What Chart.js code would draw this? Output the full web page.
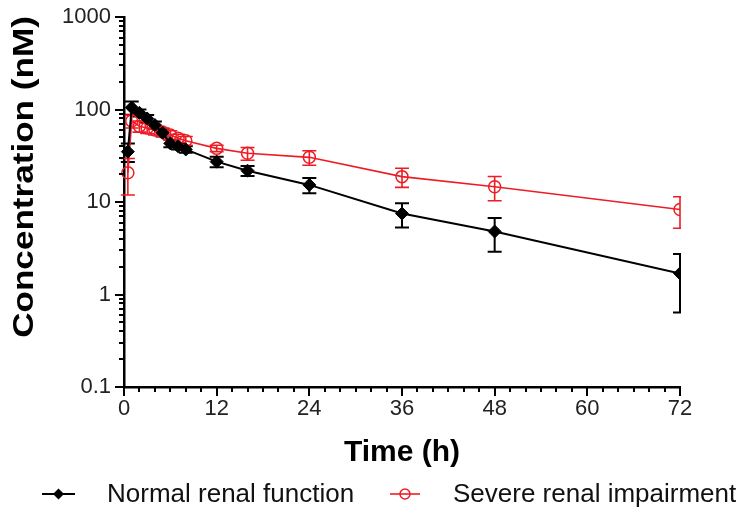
<!DOCTYPE html>
<html>
<head>
<meta charset="utf-8">
<script src="https://cdn.jsdelivr.net/npm/chart.js@4/dist/chart.umd.min.js"></script>
<style>
  html, body { margin: 0; padding: 0; background: #fff; }
  #wrap { width: 739px; height: 516px; }
</style>
</head>
<body>
<div id="wrap"><canvas id="pk" width="739" height="516"></canvas></div>
<script>
// Sampling times (h)
const sampleTimes = [0.5, 1, 2, 3, 4, 5, 6, 7, 8, 12, 16, 24, 36, 48, 72];
// Mean plasma concentration (nM) and SD, normal renal function
const normalMean = [35, 105, 92, 80, 68, 56, 43, 40, 37, 27.3, 21.8, 15.3, 7.5, 4.8, 1.69];
const normalSD   = [8, 17, 8, 7, 6, 5, 4, 3, 3, 3.5, 2.7, 2.9, 2.2, 1.9, 1.05];
// Mean plasma concentration (nM) and SD, severe renal impairment
const severeMean = [20.7, 75, 66, 63, 60, 57, 53, 49, 46, 38, 33.6, 30.4, 18.8, 14.6, 8.3];
const severeSD   = [8.8, 12, 9, 8, 7, 6, 6, 5, 5, 3, 5.3, 5.4, 4.4, 4.3, 3.1];
// Axis ticks
const xTicks = [0, 12, 24, 36, 48, 60, 72];
const yTicks = [0.1, 1, 10, 100, 1000];
const seriesNames = ['Normal renal function', 'Severe renal impairment'];
const yTitle = 'Concentration (nM)';

const BLACK = '#000000';
const RED = '#ee1c25';
const FONT = "'Liberation Sans', Arial, sans-serif";

const toPoints = (t, v) => t.map((x, i) => ({ x: x, y: v[i] }));

// Vertical SD bars with caps, drawn under the markers
const errorBars = {
  id: 'errorBars',
  beforeDatasetsDraw(chart) {
    const { ctx, chartArea: a, scales: { x, y } } = chart;
    ctx.save();
    ctx.beginPath();
    ctx.rect(a.left - 20, a.top - 20, a.right - a.left + 21, a.bottom - a.top + 40);
    ctx.clip();
    chart.data.datasets.forEach(ds => {
      ctx.strokeStyle = ds.borderColor;
      ctx.lineWidth = ds.errWidth;
      ds.data.forEach((p, i) => {
        const sd = ds.errors[i];
        const px = x.getPixelForValue(p.x);
        const yt = y.getPixelForValue(p.y + sd);
        const yb = y.getPixelForValue(Math.max(p.y - sd, 0.05));
        const cap = 7;
        ctx.beginPath();
        ctx.moveTo(px, yt); ctx.lineTo(px, yb);
        ctx.moveTo(px - cap, yt); ctx.lineTo(px + cap, yt);
        ctx.moveTo(px - cap, yb); ctx.lineTo(px + cap, yb);
        ctx.stroke();
      });
    });
    ctx.restore();
  }
};

// Outward major/minor tick marks on both axes, plus the stretched y title
const axisDecor = {
  id: 'axisDecor',
  afterDraw(chart) {
    const { ctx, chartArea: a, scales: { x, y } } = chart;
    ctx.save();
    ctx.strokeStyle = '#000';
    ctx.lineWidth = 2;
    ctx.beginPath();
    for (let d = 0; d < yTicks.length; d++) {
      const dec = yTicks[d];
      const kMax = d === yTicks.length - 1 ? 1 : 9;
      for (let k = 1; k <= kMax; k++) {
        const py = Math.round(y.getPixelForValue(dec * k));
        const len = k === 1 ? 9 : 5;
        ctx.moveTo(a.left, py); ctx.lineTo(a.left - len, py);
      }
    }
    for (let t = xTicks[0]; t <= xTicks[xTicks.length - 1]; t += 2) {
      const px = Math.round(x.getPixelForValue(t));
      const len = xTicks.includes(t) ? 9 : 5;
      ctx.moveTo(px, a.bottom); ctx.lineTo(px, a.bottom + len);
    }
    ctx.stroke();

    ctx.translate(25, 177);
    ctx.rotate(-Math.PI / 2);
    ctx.scale(1.17, 1);
    ctx.fillStyle = '#000';
    ctx.font = 'bold 30px ' + FONT;
    ctx.textAlign = 'center';
    ctx.textBaseline = 'middle';
    ctx.fillText(yTitle, 0, 0);
    ctx.restore();
  }
};

// Legend row below the time axis title
const legendRow = {
  id: 'legendRow',
  afterDraw(chart) {
    const { ctx } = chart;
    const ds = chart.data.datasets;
    const yMid = 494;
    const items = [
      { x0: 42, x1: 75, text: 107, ds: ds[0] },
      { x0: 390, x1: 420, text: 453, ds: ds[1] }
    ];
    ctx.save();
    items.forEach(it => {
      const c = it.ds.borderColor;
      ctx.strokeStyle = c;
      ctx.lineWidth = it.ds.borderWidth;
      ctx.beginPath();
      ctx.moveTo(it.x0, yMid); ctx.lineTo(it.x1, yMid);
      ctx.stroke();
      const cx = (it.x0 + it.x1) / 2;
      if (it.ds.pointStyle === 'rectRot') {
        ctx.fillStyle = c;
        ctx.beginPath();
        ctx.moveTo(cx, yMid - 5.5); ctx.lineTo(cx + 5.5, yMid);
        ctx.lineTo(cx, yMid + 5.5); ctx.lineTo(cx - 5.5, yMid);
        ctx.closePath(); ctx.fill();
      } else {
        ctx.lineWidth = 1.5;
        ctx.beginPath();
        ctx.arc(cx, yMid, 5, 0, Math.PI * 2);
        ctx.stroke();
      }
      ctx.fillStyle = '#111';
      ctx.font = '26px ' + FONT;
      ctx.textBaseline = 'middle';
      ctx.textAlign = 'left';
      ctx.fillText(it.ds.label, it.text, yMid + 1);
    });
    ctx.restore();
  }
};

new Chart(document.getElementById('pk'), {
  type: 'line',
  data: {
    datasets: [
      {
        label: seriesNames[0],
        data: toPoints(sampleTimes, normalMean),
        errors: normalSD,
        errWidth: 2,
        borderColor: BLACK,
        backgroundColor: BLACK,
        borderWidth: 2,
        pointStyle: 'rectRot',
        pointRadius: 6.5,
        pointBorderWidth: 1,
        tension: 0,
        clip: { left: 20, top: 20, right: 0, bottom: 20 }
      },
      {
        label: seriesNames[1],
        data: toPoints(sampleTimes, severeMean),
        errors: severeSD,
        errWidth: 1.6,
        borderColor: RED,
        backgroundColor: 'rgba(0,0,0,0)',
        borderWidth: 1.6,
        pointStyle: 'circle',
        pointRadius: 6,
        pointBorderWidth: 1.5,
        tension: 0,
        clip: { left: 20, top: 20, right: 0, bottom: 20 }
      }
    ]
  },
  options: {
    responsive: false,
    animation: false,
    events: [],
    layout: { padding: { left: 0, right: 59, top: 17, bottom: 0 } },
    plugins: { legend: { display: false }, tooltip: { enabled: false } },
    scales: {
      x: {
        type: 'linear',
        min: 0,
        max: 72,
        afterBuildTicks: s => { s.ticks = xTicks.map(v => ({ value: v })); },
        afterFit: s => { s.height = 129; s.paddingLeft = 0; s.paddingRight = 0; },
        grid: { display: false, drawTicks: false },
        border: { display: true, color: '#000', width: 2.5 },
        ticks: { color: '#222', padding: 9, font: { family: FONT, size: 22 }, maxRotation: 0 },
        title: {
          display: true, text: 'Time (h)', color: '#000',
          font: { family: FONT, size: 30, weight: 'bold' },
          padding: { top: 0, bottom: 45 }
        }
      },
      y: {
        type: 'logarithmic',
        min: 0.1,
        max: 1000,
        afterBuildTicks: s => { s.ticks = yTicks.map(v => ({ value: v })); },
        afterFit: s => { s.width = 124; s.paddingTop = 0; s.paddingBottom = 0; },
        grid: { display: false, drawTicks: false },
        border: { display: true, color: '#000', width: 2.5 },
        ticks: {
          color: '#222', padding: 13, font: { family: FONT, size: 22 },
          callback: v => String(v)
        },
        title: { display: false }
      }
    }
  },
  plugins: [errorBars, axisDecor, legendRow]
});
</script>
</body>
</html>
